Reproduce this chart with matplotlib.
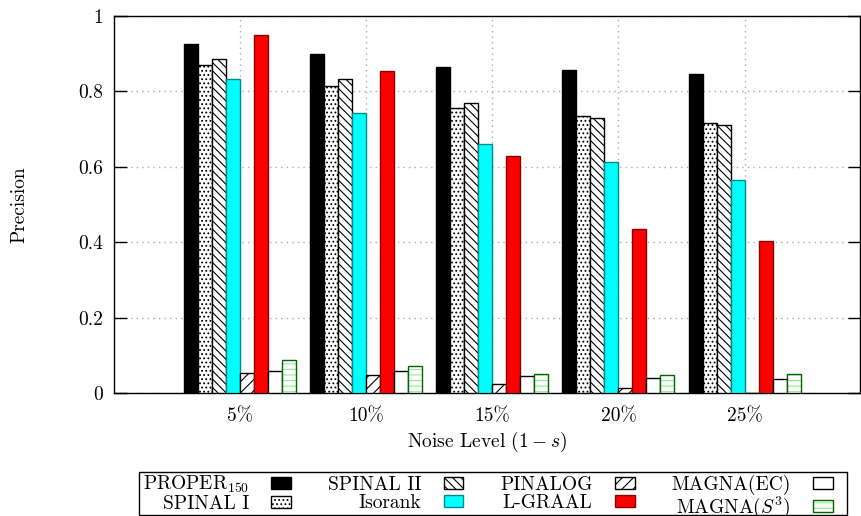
import numpy as np
import matplotlib.pyplot as plt
from matplotlib.patches import Patch, Rectangle
from matplotlib.legend_handler import HandlerPatch

plt.rcParams['font.family'] = ['cmr10', 'DejaVu Serif']
plt.rcParams['mathtext.fontset'] = 'cm'
plt.rcParams['axes.formatter.use_mathtext'] = True
plt.rcParams['hatch.linewidth'] = 0.8
plt.rcParams['font.size'] = 14

# donnees
groups = ['5%', '10%', '15%', '20%', '25%']
proper = [0.924, 0.898, 0.863, 0.855, 0.845]
spinal1 = [0.870, 0.815, 0.755, 0.733, 0.715]
spinal2 = [0.885, 0.832, 0.768, 0.730, 0.709]
isorank = [0.833, 0.742, 0.660, 0.613, 0.565]
pinalog = [0.053, 0.047, 0.025, 0.012, 0.0]
lgraal = [0.950, 0.853, 0.629, 0.434, 0.403]
magna_ec = [0.058, 0.057, 0.046, 0.039, 0.037]
magna_s3 = [0.087, 0.072, 0.051, 0.048, 0.050]

labels = [r'PROPER$_{150}$', 'SPINAL I', 'SPINAL II', 'Isorank',
          'PINALOG', 'L-GRAAL', 'MAGNA(EC)', r'MAGNA($S^3$)']
series = [proper, spinal1, spinal2, isorank, pinalog, lgraal, magna_ec, magna_s3]

# style de chaque serie : (face, bord, hachure)
styles = [
    ('black', 'black', None),
    ('white', 'black', '....'),
    ('white', 'black', '\\\\\\\\'),
    ('cyan', '#008b8b', None),
    ('white', 'black', '///'),
    ('red', '#8b0000', None),
    ('white', 'black', None),
    ('white', '#90ee90', '---'),
]


def petit_rect(legend, orig_handle, xdescent, ydescent, width, height, fontsize):
    # echantillon plus court que la case, comme gnuplot (espace a droite)
    return Rectangle((-xdescent, -ydescent), width * 0.58, height)


fig = plt.figure(figsize=(8.61, 5.16), dpi=100)
ax = fig.add_axes([114 / 861, 1 - 393 / 516, (860 - 114) / 861, (393 - 15.7) / 516])

x = np.arange(len(groups))
w = 0.111
handles = []
for i, (vals, (fc, ec, hatch)) in enumerate(zip(series, styles)):
    pos = x + (i - 3.5) * w
    if i == 7:
        # hachures vert clair, bord vert fonce
        ax.bar(pos, vals, w, color=fc, edgecolor=ec, hatch=hatch, linewidth=0, zorder=3)
        ax.bar(pos, vals, w, facecolor='none', edgecolor='#006400', linewidth=1, zorder=4)
        h = (Patch(facecolor=fc, edgecolor=ec, hatch=hatch, linewidth=0),
             Patch(facecolor='none', edgecolor='#006400', linewidth=1))
    else:
        ax.bar(pos, vals, w, color=fc, edgecolor=ec, hatch=hatch, linewidth=1, zorder=3)
        h = Patch(facecolor=fc, edgecolor=ec, hatch=hatch, linewidth=1)
    handles.append(h)

ax.set_xlim(-1.0, 4.915)
ax.set_ylim(0, 1)
ax.set_xticks(x)
ax.set_xticklabels(groups)
ax.set_yticks([0, 0.2, 0.4, 0.6, 0.8, 1])
ax.set_yticklabels(['0', '0.2', '0.4', '0.6', '0.8', '1'])
ax.tick_params(axis='y', direction='in', length=9, width=1, right=True, pad=8)
ax.tick_params(axis='x', length=0, pad=10)
ax.grid(True, color='#aaaaaa', linestyle=(0, (1, 3)), linewidth=1, zorder=0)
ax.set_axisbelow(True)
for s in ax.spines.values():
    s.set_linewidth(1)

ax.set_ylabel('Precision', labelpad=36)
ax.set_xlabel(r'Noise Level $(1-s)$', labelpad=4)

# legende sans cadre, cadre dessine a part (cmr10 a une hauteur de ligne trop grande)
leg = fig.legend(handles, labels, ncol=4, markerfirst=False, fontsize=14,
                 handler_map={Patch: HandlerPatch(patch_func=petit_rect)},
                 loc='center', bbox_to_anchor=(143 / 861, 1 - 497 / 516, 704 / 861, 0.0),
                 mode='expand', frameon=False,
                 borderpad=0.0, labelspacing=0.0, handlelength=1.75, handleheight=0.6,
                 handletextpad=1.15, columnspacing=1.0, borderaxespad=0)
fig.add_artist(Rectangle((139 / 861, 1 - 515 / 516), 708 / 861, 43 / 516,
                         transform=fig.transFigure, fill=False, edgecolor='black', linewidth=1))

fig.savefig('out.png', dpi=100)
